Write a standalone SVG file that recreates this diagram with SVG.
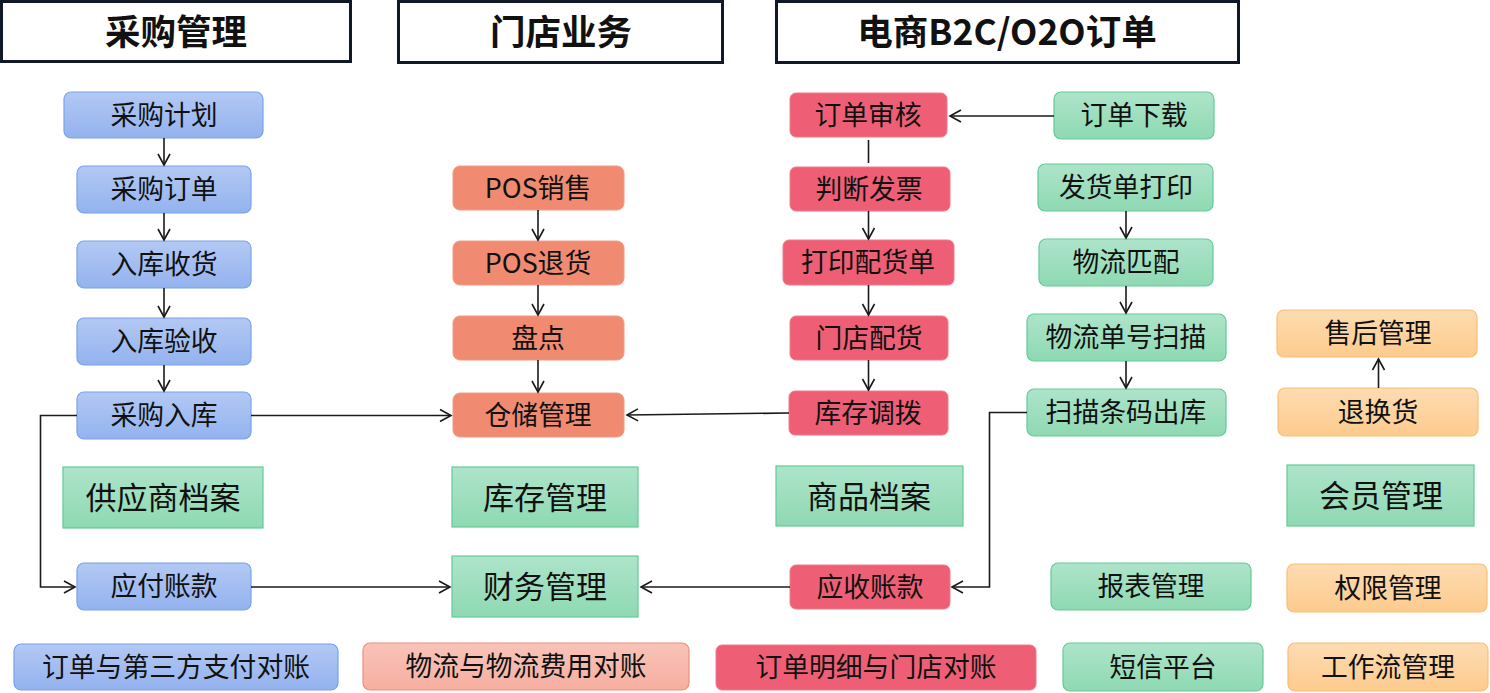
<svg xmlns="http://www.w3.org/2000/svg" width="1490" height="693" viewBox="0 0 1490 693">
<defs>
<linearGradient id="gBlue" x1="0" y1="0" x2="0" y2="1"><stop offset="0" stop-color="#B3C9F4"/><stop offset="1" stop-color="#93B2EE"/></linearGradient>
<linearGradient id="gGreen" x1="0" y1="0" x2="0" y2="1"><stop offset="0" stop-color="#AEE4CA"/><stop offset="1" stop-color="#8ED9B2"/></linearGradient>
<linearGradient id="gPeach" x1="0" y1="0" x2="0" y2="1"><stop offset="0" stop-color="#FDDCB2"/><stop offset="1" stop-color="#FDCB8D"/></linearGradient>
<linearGradient id="gPink" x1="0" y1="0" x2="0" y2="1"><stop offset="0" stop-color="#F9C3B8"/><stop offset="1" stop-color="#F6AFA1"/></linearGradient>
<marker id="arr" markerUnits="userSpaceOnUse" markerWidth="16" markerHeight="16" viewBox="-13 -8 16 16" refX="0" refY="0" orient="auto">
<path d="M-11,-6 L0,0 L-11,6" fill="none" stroke="#1a1a1a" stroke-width="1.6"/>
</marker>
</defs>
<style>
text{font-family:"Noto Sans CJK SC","Noto Sans",sans-serif;fill:#111;text-anchor:middle;dominant-baseline:central}
.title rect{fill:#fff;stroke:#111827;stroke-width:3}
.title text{font-size:35.5px;font-weight:700}
.n text{font-size:26.8px}
.sq text{font-size:31px}
.blue rect{fill:url(#gBlue);stroke:#7AA2EA;stroke-width:1.2}
.green rect{fill:url(#gGreen);stroke:#62CB96;stroke-width:1.2}
.store rect{fill:#F08A70;stroke:#F39A83;stroke-width:1}
.red rect{fill:#EE5F75;stroke:#F07A8A;stroke-width:1}
.peach rect{fill:url(#gPeach);stroke:#F9BE74;stroke-width:1.2}
.pink rect{fill:url(#gPink);stroke:#EE8E7F;stroke-width:1.2}
#connectors path,#connectors line{fill:none;stroke:#1a1a1a;stroke-width:1.6}
</style>
<rect width="1490" height="693" fill="#fff"/>

<g id="t1" class="title"><rect x="1.5" y="1.5" width="349" height="60"/><text x="176" y="29.5">采购管理</text></g>
<g id="t2" class="title"><rect x="398.5" y="1.5" width="324" height="61"/><text x="561" y="29.5">门店业务</text></g>
<g id="t3" class="title"><rect x="776.5" y="1.5" width="462" height="61"/><text x="1007" y="29.5">电商B2C/O2O订单</text></g>

<g id="n_cgjh" class="n blue"><rect x="64" y="92" width="199" height="46" rx="7"/><text x="164" y="113">采购计划</text></g>
<g id="n_cgdd" class="n blue"><rect x="77" y="166" width="174" height="47" rx="7"/><text x="164" y="187.5">采购订单</text></g>
<g id="n_rksh" class="n blue"><rect x="77" y="241" width="174" height="47" rx="7"/><text x="164" y="262.5">入库收货</text></g>
<g id="n_rkys" class="n blue"><rect x="77" y="318" width="174" height="47" rx="7"/><text x="164" y="339.5">入库验收</text></g>
<g id="n_cgrk" class="n blue"><rect x="77" y="392" width="174" height="47" rx="7"/><text x="164" y="413.5">采购入库</text></g>
<g id="n_gysda" class="sq green"><rect x="63" y="467" width="200" height="61"/><text x="163" y="495.5">供应商档案</text></g>
<g id="n_yfzk" class="n blue"><rect x="77" y="563" width="174" height="47" rx="7"/><text x="164" y="584.5">应付账款</text></g>
<g id="n_ddzf" class="n blue"><rect x="14" y="644" width="324" height="46" rx="7"/><text x="176" y="665">订单与第三方支付对账</text></g>

<g id="n_posxs" class="n store"><rect x="453" y="166" width="171" height="44" rx="7"/><text x="538" y="186">POS销售</text></g>
<g id="n_posth" class="n store"><rect x="453" y="241" width="171" height="44" rx="7"/><text x="538" y="261">POS退货</text></g>
<g id="n_pd" class="n store"><rect x="453" y="316" width="171" height="44" rx="7"/><text x="538" y="336">盘点</text></g>
<g id="n_ccgl" class="n store"><rect x="453" y="393" width="171" height="44" rx="7"/><text x="538" y="413">仓储管理</text></g>
<g id="n_kcgl" class="sq green"><rect x="452" y="467" width="186" height="60"/><text x="545" y="495">库存管理</text></g>
<g id="n_cwgl" class="sq green"><rect x="452" y="556" width="186" height="61"/><text x="545" y="584.5">财务管理</text></g>
<g id="n_wlfy" class="n pink"><rect x="363" y="643" width="326" height="47" rx="7"/><text x="526" y="664.5">物流与物流费用对账</text></g>

<g id="n_ddsh" class="n red"><rect x="790" y="93" width="157" height="44" rx="6"/><text x="868" y="113">订单审核</text></g>
<g id="n_pdfp" class="n red"><rect x="790" y="167" width="160" height="44" rx="6"/><text x="869" y="187">判断发票</text></g>
<g id="n_dyphd" class="n red"><rect x="783" y="240" width="171" height="45" rx="6"/><text x="868" y="260.5">打印配货单</text></g>
<g id="n_mdph" class="n red"><rect x="790" y="316" width="158" height="44" rx="6"/><text x="869" y="336">门店配货</text></g>
<g id="n_kcdb" class="n red"><rect x="789" y="391" width="159" height="44" rx="6"/><text x="868" y="411">库存调拨</text></g>
<g id="n_spda" class="sq green"><rect x="776" y="466" width="187" height="60"/><text x="869" y="494">商品档案</text></g>
<g id="n_yszk" class="n red"><rect x="790" y="565" width="160" height="44" rx="6"/><text x="870" y="585">应收账款</text></g>
<g id="n_ddmx" class="n red"><rect x="716" y="645" width="320" height="45" rx="6"/><text x="876" y="665.5">订单明细与门店对账</text></g>

<g id="n_ddxz" class="n green"><rect x="1054" y="92" width="160" height="47" rx="7"/><text x="1134" y="113.5">订单下载</text></g>
<g id="n_fhddy" class="n green"><rect x="1038" y="164" width="175" height="47" rx="7"/><text x="1126" y="185.5">发货单打印</text></g>
<g id="n_wlpp" class="n green"><rect x="1039" y="239" width="174" height="47" rx="7"/><text x="1126" y="260.5">物流匹配</text></g>
<g id="n_wldh" class="n green"><rect x="1027" y="314" width="199" height="47" rx="7"/><text x="1126" y="335.5">物流单号扫描</text></g>
<g id="n_smtm" class="n green"><rect x="1027" y="389" width="199" height="47" rx="7"/><text x="1126" y="410.5">扫描条码出库</text></g>
<g id="n_bbgl" class="n green"><rect x="1051" y="563" width="200" height="47" rx="7"/><text x="1151" y="584.5">报表管理</text></g>
<g id="n_dxpt" class="n green"><rect x="1063" y="643" width="200" height="48" rx="7"/><text x="1163" y="665">短信平台</text></g>

<g id="n_shgl" class="n peach"><rect x="1277" y="310" width="200" height="47" rx="7"/><text x="1378" y="331.5">售后管理</text></g>
<g id="n_thh" class="n peach"><rect x="1278" y="388" width="200" height="48" rx="7"/><text x="1378" y="410">退换货</text></g>
<g id="n_hygl" class="sq green"><rect x="1287" y="465" width="187" height="61"/><text x="1381" y="493.5">会员管理</text></g>
<g id="n_qxgl" class="n peach"><rect x="1287" y="564" width="200" height="48" rx="7"/><text x="1388" y="586">权限管理</text></g>
<g id="n_gzlgl" class="n peach"><rect x="1288" y="643" width="200" height="48" rx="7"/><text x="1388" y="665">工作流管理</text></g>

<g id="connectors">
<line x1="164" y1="138" x2="164" y2="165" marker-end="url(#arr)"/>
<line x1="164" y1="213" x2="164" y2="240" marker-end="url(#arr)"/>
<line x1="164" y1="288" x2="164" y2="317" marker-end="url(#arr)"/>
<line x1="164" y1="365" x2="164" y2="391" marker-end="url(#arr)"/>
<path d="M77,415.5 H40.5 V587 H75" marker-end="url(#arr)"/>
<line x1="251" y1="415.5" x2="451" y2="415.5" marker-end="url(#arr)"/>
<line x1="251" y1="587" x2="450" y2="587" marker-end="url(#arr)"/>
<line x1="538" y1="210" x2="538" y2="240" marker-end="url(#arr)"/>
<line x1="538" y1="285" x2="538" y2="315" marker-end="url(#arr)"/>
<line x1="538" y1="360" x2="538" y2="392" marker-end="url(#arr)"/>
<line x1="789" y1="413" x2="627" y2="415" marker-end="url(#arr)"/>
<line x1="790" y1="587" x2="641" y2="587" marker-end="url(#arr)"/>
<line x1="1054" y1="116" x2="950" y2="116" marker-end="url(#arr)"/>
<line x1="868.5" y1="140" x2="868.5" y2="163"/>
<line x1="868.5" y1="211" x2="868.5" y2="239" marker-end="url(#arr)"/>
<line x1="868.5" y1="285" x2="868.5" y2="315" marker-end="url(#arr)"/>
<line x1="868.5" y1="360" x2="868.5" y2="390" marker-end="url(#arr)"/>
<line x1="1126" y1="211" x2="1126" y2="238" marker-end="url(#arr)"/>
<line x1="1126" y1="286" x2="1126" y2="313" marker-end="url(#arr)"/>
<line x1="1126" y1="361" x2="1126" y2="388" marker-end="url(#arr)"/>
<path d="M1027,412.5 H989.5 V587 H952" marker-end="url(#arr)"/>
<line x1="1378.5" y1="388" x2="1378.5" y2="359" marker-end="url(#arr)"/>
</g>
</svg>
